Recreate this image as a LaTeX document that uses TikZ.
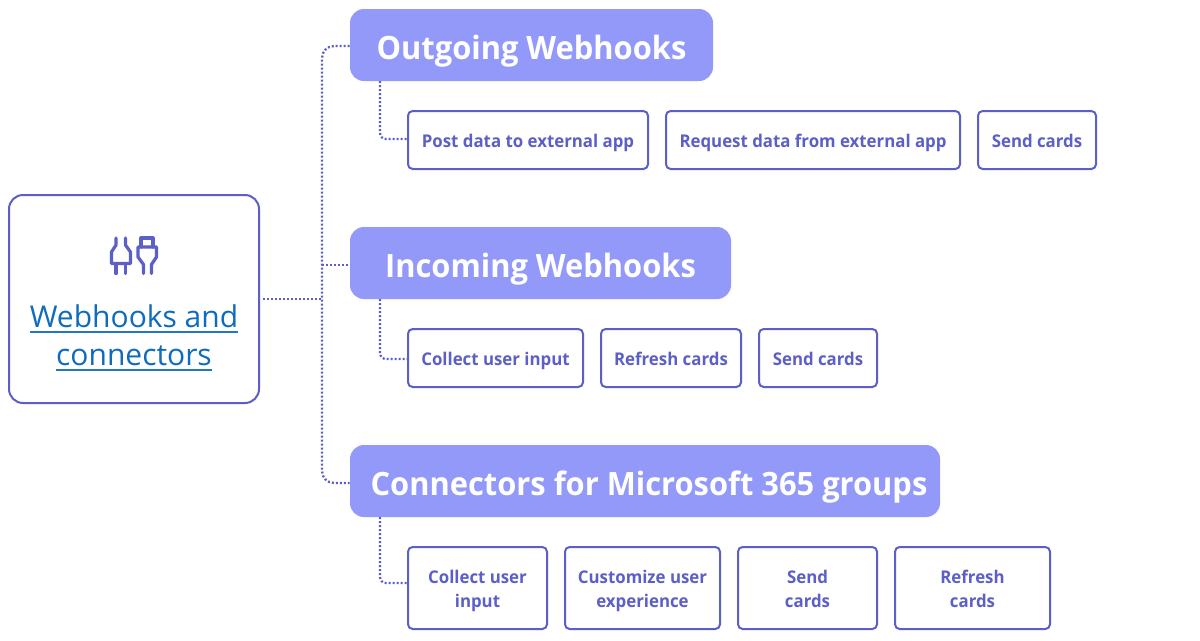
\documentclass[tikz,border=0pt]{standalone}
\usepackage{fontspec}
\setmainfont{Open Sans}
\newfontfamily\hfont[FakeStretch=0.96]{Open Sans}
\newfontfamily\bfontx[FakeStretch=0.96]{Open Sans}
\definecolor{edgeblue}{HTML}{5B5FC7}
\definecolor{headblue}{HTML}{9399F8}
\definecolor{linkblue}{HTML}{0F6CBD}
\newcommand{\lnk}[1]{\setbox0\hbox{#1}\rlap{\textcolor{linkblue!92!white}{\rule[-4.2pt]{\wd0}{1.35pt}}}\box0}
\newcommand{\hst}{\rule[-7.6pt]{0pt}{36.6pt}}
\newcommand{\sst}{\rule[-4pt]{0pt}{19pt}}
\newcommand{\ssa}{\rule{0pt}{15pt}}
\newcommand{\ssb}{\rule[-4pt]{0pt}{4pt}}
\tikzset{
  x=0.75pt,y=-0.75pt,
  mainbox/.style={draw=edgeblue,line width=1.5pt,rounded corners=10.5pt,fill=white,inner sep=0pt},
  headbox/.style={fill=headblue,rounded corners=10.5pt,text=white,inner sep=0pt,minimum height=54pt,font=\hfont\bfseries\fontsize{24.1}{27}\selectfont},
  subbox/.style={draw=edgeblue,line width=1.5pt,rounded corners=3.5pt,fill=white,text=edgeblue,inner sep=0pt,align=center,font=\bfontx\bfseries\fontsize{13.15}{18}\selectfont},
  dotline/.style={draw=edgeblue,line width=1.7pt,dash pattern=on 1.5pt off 1.5pt},
  iconline/.style={draw=edgeblue,line width=2.4pt,line join=round,line cap=round}
}
\begin{document}
\begin{tikzpicture}
\useasboundingbox (0,0) rectangle (1200,640);
\fill[white] (0,0) rectangle (1200,640);
\node[mainbox,minimum width=187.5pt,minimum height=156pt] (main) at (134,299) {};
\node[text=linkblue,align=center,font=\fontsize{22.5}{28.5}\selectfont,inner sep=0pt] (mainlabel) at (134,338) {\lnk{Webhooks and}\\\lnk{connectors}};
\node[headbox,minimum width=272.25pt] (h1) at (531.5,45) {\hst Outgoing Webhooks};
\node[headbox,minimum width=285.75pt] (h2) at (540.5,263) {\hst Incoming Webhooks};
\node[headbox,minimum width=442.5pt] (h3) at (645,481) {\hspace*{6pt}\hst Connectors for Microsoft 365 groups};
\node[subbox,minimum width=180pt,minimum height=43.5pt] (s11) at (528,140) {\sst Post data to external app};
\node[subbox,minimum width=220.5pt,minimum height=43.5pt] (s12) at (813,140) {\sst Request data from external app};
\node[subbox,minimum width=88.5pt,minimum height=43.5pt] (s13) at (1037,140) {\sst Send cards};
\node[subbox,minimum width=131.25pt,minimum height=43.5pt] (s21) at (495.5,358) {\sst Collect user input};
\node[subbox,minimum width=105pt,minimum height=43.5pt] (s22) at (671,358) {\sst Refresh cards};
\node[subbox,minimum width=88.5pt,minimum height=43.5pt] (s23) at (818,358) {\sst Send cards};
\node[subbox,minimum width=104.25pt,minimum height=61.5pt] (s31) at (477.5,588) {\ssa Collect user\\\ssb input};
\node[subbox,minimum width=116.25pt,minimum height=61.5pt] (s32) at (642.5,588) {\ssa Customize user\\\ssb experience};
\node[subbox,minimum width=104.25pt,minimum height=61.5pt] (s33) at (807.5,588) {\ssa Send\\\ssb cards};
\node[subbox,minimum width=116.25pt,minimum height=61.5pt] (s34) at (972.5,588) {\ssa Refresh\\\ssb cards};
\coordinate (trunk) at (322,299);
\coordinate (d1) at (380,81);
\coordinate (d2) at (380,299);
\coordinate (d3) at (380,517);
\draw[dotline,rounded corners=9pt] ([yshift=-0.75pt]h1.west) -| (trunk) |- ([yshift=-1.5pt]h3.west);
\draw[dotline] (main.east) ++(3,0) -- (trunk);
\draw[dotline] (trunk |- h2.west) ++(0,2) -- ([yshift=-1.5pt]h2.west);
\draw[dotline,rounded corners=4.5pt] (d1) |- ([yshift=0.75pt]s11.west);
\draw[dotline,rounded corners=4.5pt] (d2) |- ([yshift=-0.75pt]s21.west);
\draw[dotline,rounded corners=4.5pt] (d3) |- ([yshift=3.75pt]s31.west);
% icon
\draw[iconline] (116,238) -- (116,245) -- (111.5,252) -- (111.5,263.5) -- (130.5,263.5) -- (130.5,252) -- (125.5,245) -- (125.5,238);
\draw[iconline] (116,264) -- (116,273.5) (125.5,264) -- (125.5,273.5);
\draw[iconline] (141,247) -- (141,238) -- (153,238) -- (153,247);
\draw[iconline] (143.5,273.5) -- (143.5,264.5) -- (138,257) -- (138,247) -- (156.5,247) -- (156.5,257) -- (151.5,264.5) -- (151.5,273.5);
\end{tikzpicture}
\end{document}
